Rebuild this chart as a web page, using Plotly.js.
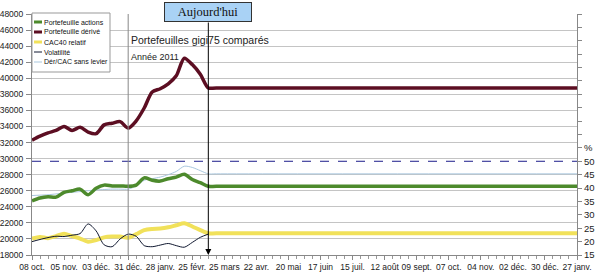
<!DOCTYPE html>
<html><head><meta charset="utf-8">
<script src="https://cdn.plot.ly/plotly-3.0.1.min.js"></script>
<style>html,body{margin:0;padding:0;background:#fff}#chart{width:597px;height:275px}</style>
</head><body><div id="chart"></div>
<script>
const dates = ['2010-10-08','2010-10-15','2010-10-22','2010-10-29','2010-11-05','2010-11-12','2010-11-19','2010-11-26',
  '2010-12-03','2010-12-10','2010-12-17','2010-12-24','2010-12-31','2011-01-07','2011-01-14','2011-01-21',
  '2011-01-28','2011-02-04','2011-02-11','2011-02-18','2011-02-25','2011-03-04','2011-03-11','2011-03-18','2012-01-27'];
const actions = [24750,25100,25250,25200,25800,26000,26200,25500,26300,26700,26600,26600,26550,26700,27600,27300,27200,27500,27700,28050,27400,27000,26550,26550,26550];
const derive  = [32300,32800,33200,33500,34000,33500,33900,33300,33100,34200,34400,34600,33800,34700,36300,38300,38700,39300,40300,42500,41700,40500,38800,38800,38800];
const cac40   = [20050,20250,20100,20350,20650,20350,20050,19650,19850,20200,20300,20300,20150,20600,21100,21250,21300,21450,21700,21950,21550,21100,20700,20700,20700];
const volatilite = [20.0,20.8,21.5,22.0,21.9,22.4,23.0,26.6,24.0,18.8,18.1,21.0,22.8,22.0,18.5,18.1,18.7,19.3,18.5,17.9,19.7,21.6,22.8,null,null];
const dercac  = [25400,25450,25500,25600,25700,25800,25900,26000,26100,26150,26200,26200,26200,26600,27300,27500,27700,28000,28400,29050,28900,28500,28100,28100,28100];
const xTickVals = ['2010-10-08','2010-11-05','2010-12-03','2010-12-31','2011-01-28','2011-02-25','2011-03-25','2011-04-22','2011-05-20',
  '2011-06-17','2011-07-15','2011-08-12','2011-09-09','2011-10-07','2011-11-04','2011-12-02','2011-12-30','2012-01-27'];
const xTickText = ['08 oct.','05 nov.','03 déc.','31 déc.','28 janv.','25 févr.','25 mars','22 avr.','20 mai',
  '17 juin','15 juil.','12 août','09 sept.','07 oct.','04 nov.','02 déc.','30 déc.','27 janv.'];
const rightTickVals = [15,20,25,30,35,40,45,50,55,60,65,70,75,80,85,90,95,100,105];
const rightTickText = ['15','20','25','30','35','40','45','50','%','','','','','','','','','',''];
const today = '2011-03-11';
const yearMark = '2010-12-31';

const names = ['Portefeuille actions','Portefeuille dérivé','CAC40 relatif','Volatilité','Dér/CAC sans levier'];
const colors = ['#4d8a2c','#5c0e22','#f1e15a','#101830','#a9c7de'];
const widths = [3.5, 3.5, 4, 1, 1];
const series = [actions, derive, cac40, volatilite, dercac];
const axes = ['y','y','y','y2','y'];
const drawOrder = [4, 0, 1, 2, 3];

const traces = drawOrder.map(i => ({
  type: 'scatter', mode: 'lines', x: dates, y: series[i], name: names[i], yaxis: axes[i], hoverinfo: 'skip',
  line: {color: colors[i], width: widths[i], shape: 'spline', smoothing: 0.8}
}));

// plot area in pixels: x 32..577, y 14..255
const px = v => (v - 32) / 545;
const py = v => (255 - v) / 241;

const fontFam = '"Liberation Sans", Arial, sans-serif';
const shapes = [
  {type: 'line', xref: 'paper', x0: 0, x1: 1, yref: 'y2', y0: 50, y1: 50, line: {color: '#1c1c8a', width: 1, dash: 'dash'}},
  {type: 'line', xref: 'x', x0: yearMark, x1: yearMark, yref: 'paper', y0: 0, y1: 1, line: {color: '#888', width: 1}},
  {type: 'rect', xref: 'paper', yref: 'paper', x0: px(32), x1: px(110), y0: py(72), y1: py(13),
    fillcolor: '#fff', line: {color: '#999', width: 1}, layer: 'above'}
];
const annotations = [
  {xref: 'paper', yref: 'paper', x: px(129), y: py(40), xanchor: 'left', yanchor: 'middle', showarrow: false,
    text: 'Portefeuilles gigi75 comparés', font: {size: 10.5, family: fontFam, color: '#222'}},
  {xref: 'paper', yref: 'paper', x: px(129), y: py(57), xanchor: 'left', yanchor: 'middle', showarrow: false,
    text: 'Année 2011', font: {size: 9, family: fontFam, color: '#222'}},
  {xref: 'x', yref: 'y', x: today, y: 18000, ax: 0, ay: -234, showarrow: true, arrowhead: 2, arrowsize: 1.2, arrowwidth: 1,
    arrowcolor: '#000', standoff: 0, text: ''},
  {xref: 'x', yref: 'paper', x: today, y: py(12), xanchor: 'center', yanchor: 'middle', showarrow: false,
    text: "Aujourd'hui", width: 82, height: 14, borderpad: 2, bgcolor: '#a9d2f5', bordercolor: '#333', borderwidth: 1,
    font: {size: 12.5, family: '"Liberation Serif", "Times New Roman", serif', color: '#111'}}
];
names.forEach((n, i) => {
  const yy = 22 + i * 10;
  shapes.push({type: 'line', xref: 'paper', yref: 'paper', x0: px(34), x1: px(42), y0: py(yy), y1: py(yy),
    line: {color: colors[i], width: Math.min(widths[i], 3)}, layer: 'above'});
  annotations.push({xref: 'paper', yref: 'paper', x: px(43), y: py(yy), xanchor: 'left', yanchor: 'middle', showarrow: false,
    text: n, font: {size: 7, family: fontFam, color: '#111'}, borderpad: 0});
});

const layout = {
  width: 597, height: 275,
  margin: {l: 32, r: 20, t: 14, b: 20, pad: 0},
  paper_bgcolor: '#fff', plot_bgcolor: '#fff',
  font: {family: fontFam, size: 8.5, color: '#222'},
  showlegend: false,
  xaxis: {type: 'date', range: ['2010-10-08', '2012-01-27'], tickmode: 'array', tickvals: xTickVals, ticktext: xTickText,
    showgrid: false, zeroline: false, showline: true, linecolor: '#888', linewidth: 1,
    ticks: 'outside', ticklen: 4, tickcolor: '#888', tickfont: {size: 8.5, color: '#222'},
    minor: {dtick: 7*24*3600*1000, tick0: '2010-10-08', ticks: 'outside', ticklen: 3, tickcolor: '#999', showgrid: false}},
  yaxis: {range: [18000, 48000], dtick: 2000, tick0: 18000, showgrid: true, gridcolor: '#c4c4c4', gridwidth: 1,
    zeroline: false, showline: true, linecolor: '#888', ticks: 'outside', ticklen: 5, tickcolor: '#888',
    tickfont: {size: 8.5, color: '#222'}, tickformat: 'd', ticklabelstandoff: 1},
  yaxis2: {overlaying: 'y', side: 'right', range: [15, 105], tickmode: 'array', tickvals: rightTickVals, ticktext: rightTickText,
    showgrid: false, zeroline: false, showline: true, linecolor: '#888', ticks: 'outside', ticklen: 4, tickcolor: '#888',
    tickfont: {size: 9.5, color: '#222'}},
  shapes: shapes,
  annotations: annotations
};
Plotly.newPlot('chart', traces, layout, {staticPlot: true, displayModeBar: false});
</script></body></html>
